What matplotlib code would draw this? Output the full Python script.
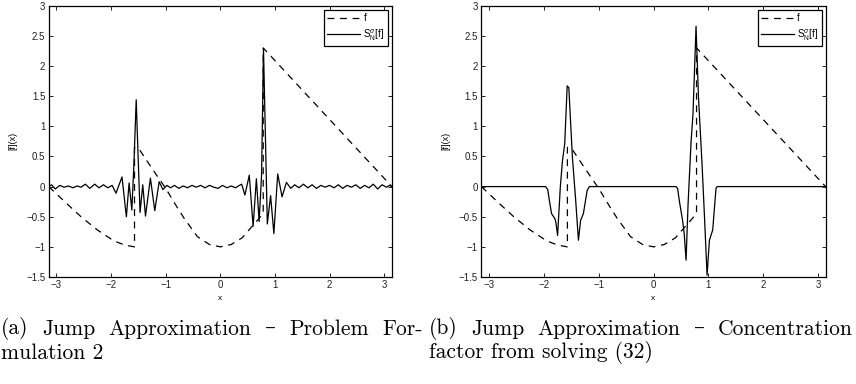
import matplotlib
matplotlib.use('Agg')
import matplotlib.pyplot as plt

# f(x): piecewise function with jumps at -pi/2 and pi/4
f_x = [-3.14, -2.85, -2.55, -2.25, -1.95, -1.75, -1.571, -1.571, -1.5, -1.25, -1.0,
       -0.8, -0.66, -0.42, -0.2, 0.0, 0.2, 0.4, 0.6, 0.785, 0.785, 3.14]
f_y = [0.0, -0.25, -0.5, -0.72, -0.9, -0.97, -1.0, 0.65, 0.64, 0.3, -0.03,
       -0.33, -0.53, -0.83, -0.96, -1.0, -0.96, -0.85, -0.64, -0.45, 2.3, 0.0]

# (a) jump approximation, problem formulation 2
sa_x = [-3.14, -3.09, -3.02, -2.94, -2.86, -2.78, -2.70, -2.62, -2.55, -2.47, -2.39,
        -2.30, -2.22, -2.14, -2.06, -1.98, -1.91, -1.80, -1.72, -1.67, -1.62, -1.585,
        -1.54, -1.47, -1.42, -1.37, -1.28, -1.20, -1.12, -1.05, -0.98, -0.91, -0.84,
        -0.76, -0.68, -0.60, -0.52, -0.44, -0.36, -0.28, -0.20, -0.12, -0.04, 0.04,
        0.12, 0.20, 0.28, 0.33, 0.39, 0.45, 0.53, 0.60, 0.66, 0.71, 0.755, 0.79,
        0.86, 0.92, 0.98, 1.05, 1.13, 1.21, 1.29, 1.36, 1.44, 1.52, 1.60, 1.68,
        1.76, 1.84, 1.92, 2.00, 2.08, 2.16, 2.24, 2.32, 2.40, 2.48, 2.56, 2.64,
        2.72, 2.80, 2.88, 2.96, 3.04, 3.10, 3.14]
sa_y = [0.0, 0.03, -0.04, 0.02, -0.01, 0.01, -0.02, 0.01, -0.01, 0.04, -0.03,
        0.04, -0.02, 0.03, -0.02, 0.02, -0.11, 0.16, -0.50, 0.06, -0.39, 0.3,
        1.44, -0.43, 0.03, -0.49, 0.14, -0.40, 0.08, -0.05, 0.02, -0.02, 0.02,
        -0.03, 0.01, -0.02, 0.02, -0.01, 0.02, -0.02, 0.02, -0.01, -0.03, 0.02,
        -0.02, 0.01, -0.02, 0.01, 0.04, -0.14, 0.19, -0.66, 0.13, -0.58, 0.2, 2.29,
        -0.62, -0.15, -0.78, 0.21, -0.17, 0.07, -0.03, 0.03, -0.02, 0.04, -0.02, 0.03,
        -0.03, 0.02, -0.01, 0.02, -0.02, 0.03, -0.03, 0.02, -0.01, 0.03, -0.03, 0.02,
        -0.02, 0.04, -0.04, 0.03, -0.01, 0.02, 0.0]

# (b) concentration factor from solving (32)
sb_x = [-3.14, -1.97, -1.93, -1.90, -1.86, -1.80, -1.78, -1.75, -1.70, -1.66, -1.62,
        -1.575, -1.545, -1.48, -1.42, -1.37, -1.33, -1.28, -1.21, -1.17, 0.41, 0.44,
        0.47, 0.53, 0.56, 0.594, 0.63, 0.685, 0.72, 0.776, 0.82, 0.885, 0.93, 0.977,
        1.02, 1.08, 1.14, 1.16, 3.14]
sb_y = [0.0, 0.0, -0.05, -0.23, -0.45, -0.53, -0.6, -0.81, 0.0, 0.44, 0.71,
        1.67, 1.64, 0.49, -0.23, -0.89, -0.56, -0.45, -0.06, 0.0, 0.0, -0.03,
        -0.23, -0.56, -0.78, -1.22, -0.3, 0.74, 1.2, 2.66, 1.49, 0.38, -0.5, -1.47,
        -0.89, -0.72, -0.03, 0.0, 0.0]

cap_a = ['(a) Jump Approximation \u2013 Problem For-', 'mulation 2']
cap_b = ['(b) Jump Approximation \u2013 Concentration', 'factor from solving (32)']

plt.rcParams['font.family'] = ['Liberation Sans', 'DejaVu Sans']
plt.rcParams['mathtext.fontset'] = 'custom'
plt.rcParams['mathtext.rm'] = 'Liberation Sans'
plt.rcParams['mathtext.it'] = 'Liberation Sans:italic'

W, H = 856, 384
fig = plt.figure(figsize=(W / 100, H / 100), dpi=100)
ax_a = fig.add_axes([0.0569, 0.2786, 0.401, 0.7065])
ax_b = fig.add_axes([0.5623, 0.2786, 0.4023, 0.7065])

for ax, sx, sy in [(ax_a, sa_x, sa_y), (ax_b, sb_x, sb_y)]:
    ax.plot(f_x, f_y, color='black', lw=0.9, linestyle=(0, (5.5, 4.5)), label='f')
    ax.plot(sx, sy, color='black', lw=0.9, label=r'S$_{\mathrm{N}}^{\sigma}$[f]')
    ax.set_xlim(-3.1416, 3.1416)
    ax.set_ylim(-1.5, 3)
    ax.set_xticks([-3, -2, -1, 0, 1, 2, 3])
    ax.set_yticks([-1.5, -1, -0.5, 0, 0.5, 1, 1.5, 2, 2.5, 3])
    ax.set_yticklabels(['\u22121.5', '\u22121', '\u22120.5', '0', '0.5', '1',
                        '1.5', '2', '2.5', '3'])
    ax.tick_params(direction='in', length=3, width=0.7, labelsize=7, pad=2.5,
                   top=True, right=True, colors='#222222')
    for sp in ax.spines.values():
        sp.set_linewidth(0.9)
    ax.set_xlabel('x', fontsize=6, labelpad=3)
    ax.set_ylabel('[f](x)', fontsize=6.5, labelpad=6)
    leg = ax.legend(loc='upper right', fontsize=7, handlelength=3.4, handletextpad=0.3,
                    borderaxespad=0.4, borderpad=0.35, labelspacing=0.45,
                    fancybox=False, framealpha=1, edgecolor='black')
    leg.get_frame().set_linewidth(0.9)

cap_font = dict(fontsize=15.5, family=['cmr10', 'DejaVu Serif'], va='center', ha='left')


def justified(line, x0, x1, y):
    # spread the words of a caption line over [x0, x1] pixels
    words = line.split(' ')
    texts = [fig.text(0, y / H, w, **cap_font) for w in words]
    r = fig.canvas.get_renderer()
    widths = [t.get_window_extent(r).width for t in texts]
    gap = (x1 - x0 - sum(widths)) / (len(words) - 1)
    x = x0
    for t, w in zip(texts, widths):
        t.set_x(x / W)
        x += w + gap


justified(cap_a[0], 1, 423, H - 329)
fig.text(1 / W, 1 - 353 / H, cap_a[1], **cap_font)
justified(cap_b[0], 429, 853, H - 329)
fig.text(429 / W, 1 - 353 / H, cap_b[1], **cap_font)

fig.savefig('out.png', dpi=100)
